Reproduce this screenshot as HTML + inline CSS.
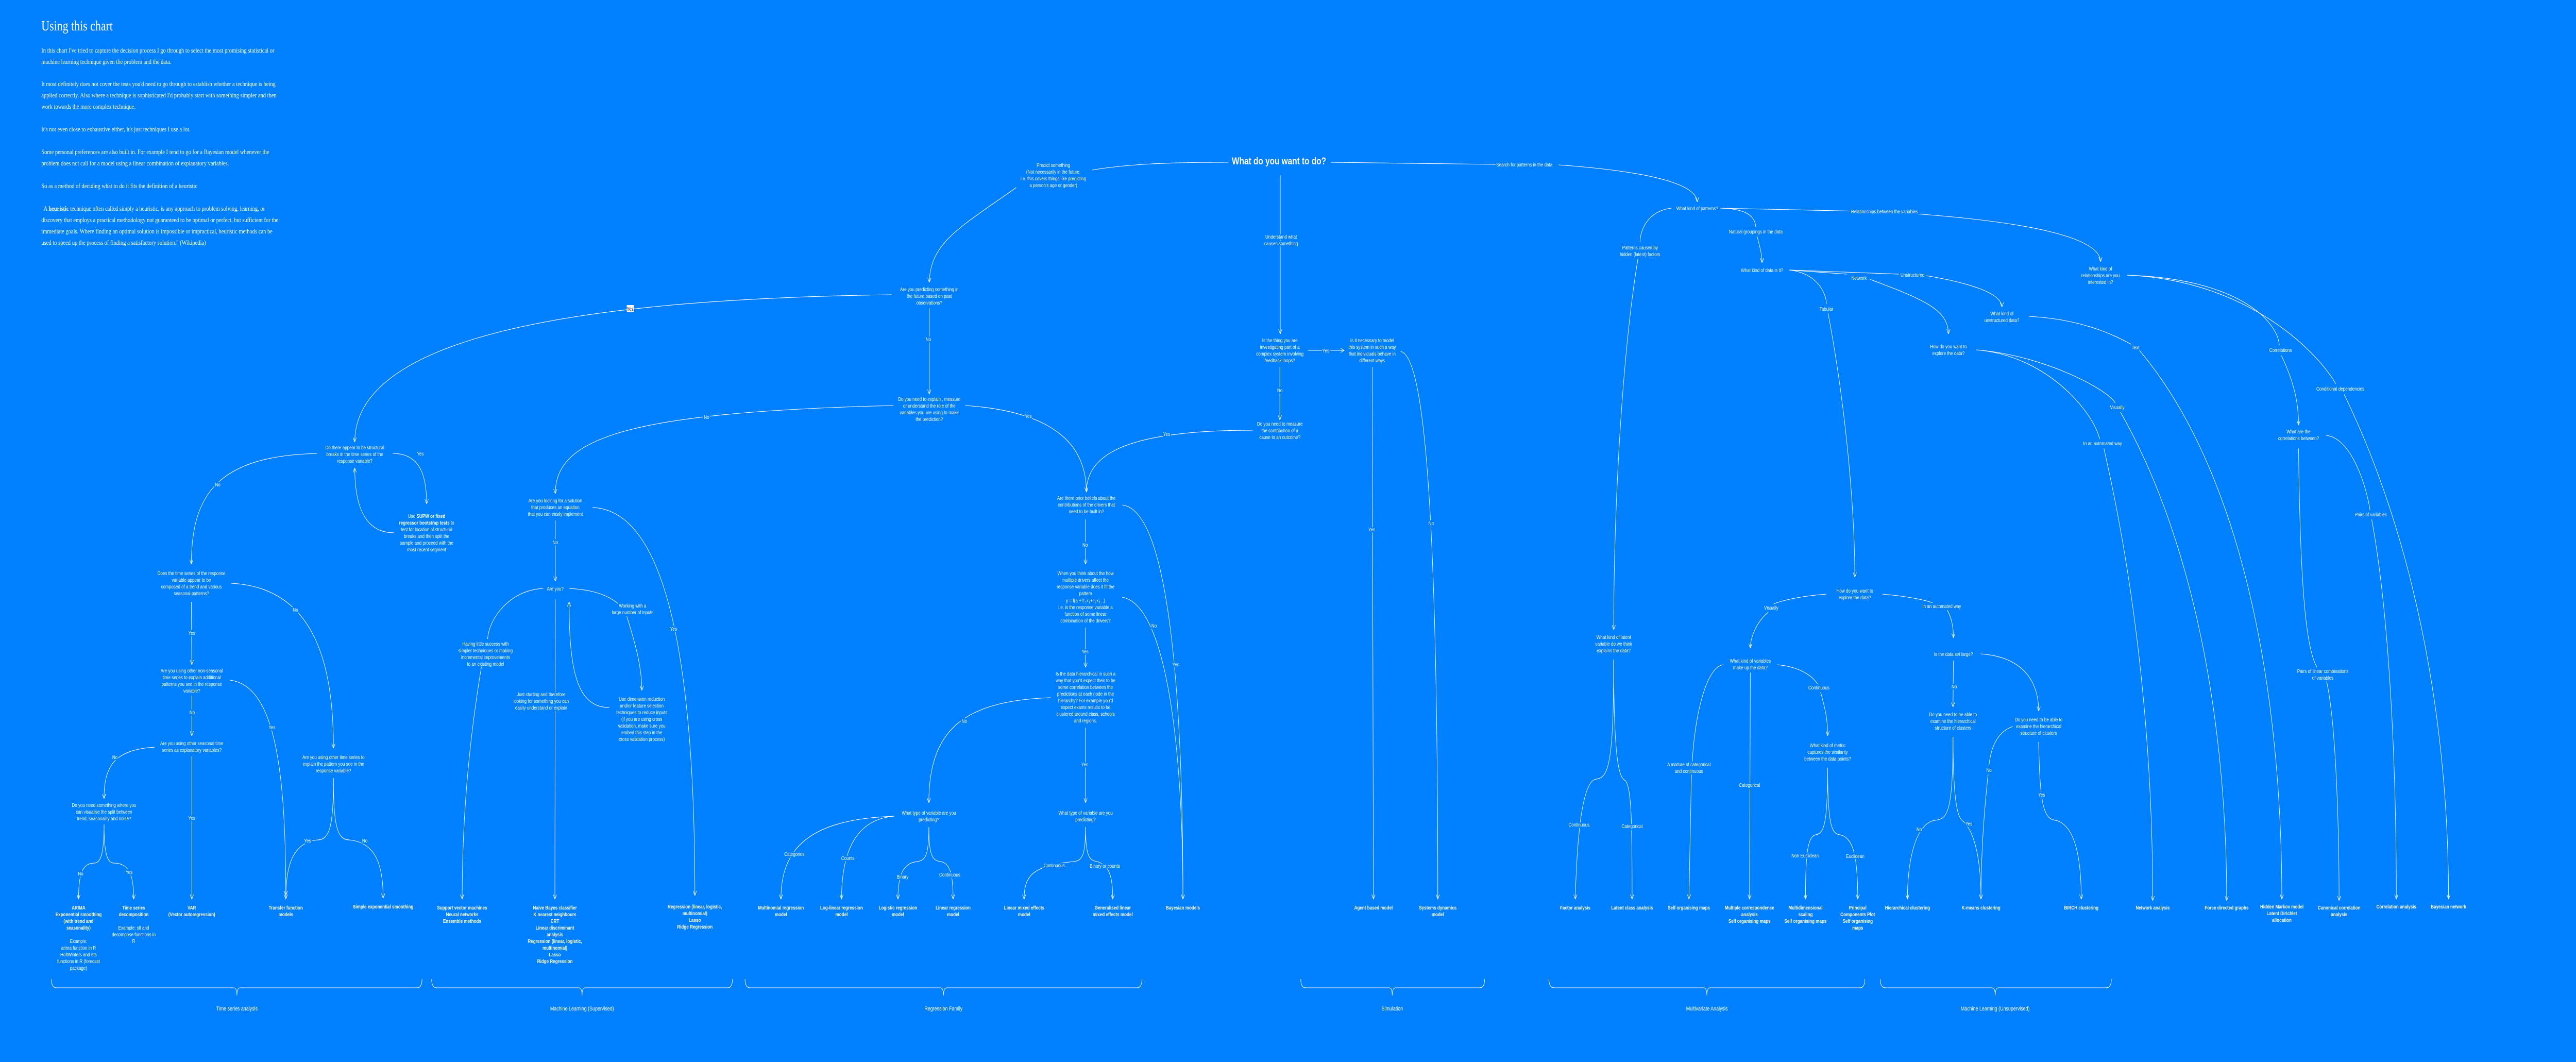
<!DOCTYPE html>
<html><head><meta charset="utf-8">
<style>
html,body{margin:0;padding:0;width:100%;height:100%;overflow:hidden;background:#0080ff;}
body{font-family:"Liberation Sans",sans-serif;}
svg{position:absolute;left:0;top:0;width:100vw;height:100vh;display:block;}
text{fill:#fff;font-family:"Liberation Sans",sans-serif;font-size:10px;text-anchor:middle;paint-order:stroke;stroke:#0080ff;stroke-width:5px;stroke-linejoin:round;}
text.i{font-family:"Liberation Serif",serif;font-size:13px;text-anchor:start;stroke:none;}
text.t{font-family:"Liberation Serif",serif;font-size:27px;text-anchor:start;stroke:none;}
.b{font-weight:bold;}
.s{font-size:11px;}
path.e{fill:none;stroke:#fff;stroke-width:1.1;}
</style></head><body>
<svg viewBox="0 0 6165 2061" preserveAspectRatio="none" xmlns="http://www.w3.org/2000/svg">
<defs>
<marker id="a" viewBox="0 0 10 10" refX="10" refY="5" markerWidth="9" markerHeight="9" markerUnits="userSpaceOnUse" orient="auto">
<path d="M0,0.5 L10,5 L0,9.5" fill="none" stroke="#fff" stroke-width="1.2"/>
</marker>
</defs>
<rect x="0" y="0" width="6165" height="2061" fill="#0080ff"/>
<text class="t" x="99" y="59">Using this chart</text>
<text class="i" x="99" y="102">In this chart I've tried to capture the decision process I go through to select the most promising statistical or</text>
<text class="i" x="99" y="124">machine learning technique given the problem and the data.</text>
<text class="i" x="99" y="167">It most definitely does not cover the tests you'd need to go through to establish whether a technique is being</text>
<text class="i" x="99" y="189">applied correctly. Also where a technique is sophisticated I'd probably start with something simpler and then</text>
<text class="i" x="99" y="211">work towards the more complex technique.</text>
<text class="i" x="99" y="255">It's not even close to exhaustive either, it's just techniques I use a lot.</text>
<text class="i" x="99" y="299">Some personal preferences are also built in. For example I tend to go for a Bayesian model whenever the</text>
<text class="i" x="99" y="321">problem does not call for a model using a linear combination of explanatory variables.</text>
<text class="i" x="99" y="365">So as a method of deciding what to do it fits the definition of a heuristic</text>
<text class="i" x="99" y="409">"A <tspan class="b">heuristic</tspan> technique often called simply a heuristic, is any approach to problem solving, learning, or</text>
<text class="i" x="99" y="431">discovery that employs a practical methodology not guaranteed to be optimal or perfect, but sufficient for the</text>
<text class="i" x="99" y="453">immediate goals. Where finding an optimal solution is impossible or impractical, heuristic methods can be</text>
<text class="i" x="99" y="475">used to speed up the process of finding a satisfactory solution." (Wikipedia)</text>
<g>
<path class="e" d="M2940 315 C2800 315 2700 318 2614 330"/>
<path class="e" marker-end="url(#a)" d="M2432 364 C2300 440 2226 470 2224 548"/>
<path class="e" marker-end="url(#a)" d="M3064 340 L3064 648"/>
<path class="e" d="M3185 315 L3580 319"/>
<path class="e" marker-end="url(#a)" d="M3730 320 C3900 330 4060 350 4062 392"/>
<path class="e" marker-end="url(#a)" d="M3130 680 L3217 680"/>
<path class="e" marker-end="url(#a)" d="M3063 712 L3063 815"/>
<path class="e" marker-end="url(#a)" d="M3284 712 L3287 1745"/>
<path class="e" marker-end="url(#a)" d="M3352 682 C3400 690 3441 900 3441 1745"/>
<path class="e" marker-end="url(#a)" d="M2998 835 C2700 835 2600 880 2600 955"/>
<path class="e" marker-end="url(#a)" d="M2134 572 C1400 580 849 650 849 858"/>
<path class="e" marker-end="url(#a)" d="M2224 598 L2224 765"/>
<path class="e" marker-end="url(#a)" d="M2138 787 C1500 800 1329 850 1329 958"/>
<path class="e" marker-end="url(#a)" d="M2310 787 C2550 800 2600 880 2600 955"/>
<path class="e" marker-end="url(#a)" d="M759 880 C520 885 458 960 458 1095"/>
<path class="e" marker-end="url(#a)" d="M940 880 C1010 880 1021 930 1021 978"/>
<path class="e" marker-end="url(#a)" d="M943 1034 C860 1034 849 960 849 908"/>
<path class="e" marker-end="url(#a)" d="M458 1168 L459 1290"/>
<path class="e" marker-end="url(#a)" d="M553 1132 C760 1140 798 1300 798 1452"/>
<path class="e" marker-end="url(#a)" d="M459 1350 L459 1428"/>
<path class="e" marker-end="url(#a)" d="M550 1320 C660 1330 684 1500 684 1738"/>
<path class="e" marker-end="url(#a)" d="M370 1450 C270 1455 249 1490 249 1550"/>
<path class="e" marker-end="url(#a)" d="M459 1468 L459 1745"/>
<path class="e" marker-end="url(#a)" d="M249 1600 C249 1660 240 1675 225 1675 C195 1675 188 1700 188 1745"/>
<path class="e" marker-end="url(#a)" d="M249 1600 C249 1660 258 1675 273 1675 C310 1675 320 1700 320 1745"/>
<path class="e" marker-end="url(#a)" d="M798 1510 C798 1600 790 1630 760 1630 C700 1635 684 1680 684 1745"/>
<path class="e" marker-end="url(#a)" d="M798 1510 C798 1600 806 1630 836 1630 C900 1635 917 1680 917 1743"/>
<path class="e" marker-end="url(#a)" d="M1418 985 C1600 990 1663 1300 1663 1738"/>
<path class="e" marker-end="url(#a)" d="M1329 1010 L1329 1128"/>
<path class="e" d="M1300 1142 C1220 1145 1170 1200 1167 1240"/>
<path class="e" marker-end="url(#a)" d="M1152 1295 C1120 1450 1106 1600 1106 1745"/>
<path class="e" marker-end="url(#a)" d="M1329 1163 L1328 1745"/>
<path class="e" d="M1362 1142 C1440 1145 1470 1165 1480 1172"/>
<path class="e" marker-end="url(#a)" d="M1500 1196 C1525 1260 1536 1300 1536 1340"/>
<path class="e" marker-end="url(#a)" d="M1458 1373 C1380 1373 1362 1300 1362 1168"/>
<path class="e" marker-end="url(#a)" d="M2686 980 C2790 990 2831 1300 2831 1745"/>
<path class="e" marker-end="url(#a)" d="M2598 1008 L2598 1095"/>
<path class="e" d="M2685 1159 C2780 1170 2831 1400 2831 1745"/>
<path class="e" marker-end="url(#a)" d="M2598 1218 L2598 1295"/>
<path class="e" marker-end="url(#a)" d="M2515 1354 C2300 1360 2223 1420 2223 1558"/>
<path class="e" marker-end="url(#a)" d="M2598 1412 L2598 1558"/>
<path class="e" marker-end="url(#a)" d="M2140 1584 C1930 1590 1869 1650 1869 1745"/>
<path class="e" marker-end="url(#a)" d="M2140 1584 C2050 1590 2014 1650 2014 1745"/>
<path class="e" marker-end="url(#a)" d="M2223 1605 C2223 1660 2215 1670 2195 1672 C2160 1675 2149 1700 2149 1745"/>
<path class="e" marker-end="url(#a)" d="M2223 1605 C2223 1660 2231 1670 2251 1672 C2275 1675 2281 1700 2281 1745"/>
<path class="e" marker-end="url(#a)" d="M2598 1605 C2598 1660 2590 1670 2570 1672 C2470 1680 2451 1700 2451 1745"/>
<path class="e" marker-end="url(#a)" d="M2598 1605 C2598 1660 2606 1670 2626 1672 C2655 1680 2663 1700 2663 1745"/>
<path class="e" d="M4000 404 C3940 410 3925 450 3925 470"/>
<path class="e" marker-end="url(#a)" d="M3920 502 C3880 700 3862 1000 3862 1222"/>
<path class="e" d="M4117 404 L4455 410"/>
<path class="e" marker-end="url(#a)" d="M4568 414 C4850 430 5027 460 5027 508"/>
<path class="e" d="M4117 404 C4180 405 4200 420 4202 440"/>
<path class="e" marker-end="url(#a)" d="M4205 458 C4212 480 4217 495 4217 510"/>
<path class="e" d="M4282 524 C4350 530 4371 570 4371 590"/>
<path class="e" marker-end="url(#a)" d="M4375 608 C4420 800 4439 1000 4439 1120"/>
<path class="e" d="M4282 524 L4420 532"/>
<path class="e" marker-end="url(#a)" d="M4475 542 C4600 580 4663 600 4663 648"/>
<path class="e" d="M4282 524 L4545 532"/>
<path class="e" marker-end="url(#a)" d="M4610 535 C4720 550 4791 570 4791 596"/>
<path class="e" d="M4856 614 C5000 620 5080 660 5100 668"/>
<path class="e" marker-end="url(#a)" d="M5120 680 C5350 900 5461 1300 5461 1745"/>
<path class="e" d="M4730 679 C4900 690 5050 760 5062 782"/>
<path class="e" marker-end="url(#a)" d="M5075 800 C5250 1050 5329 1400 5329 1748"/>
<path class="e" d="M4730 679 C4900 690 5010 800 5025 852"/>
<path class="e" marker-end="url(#a)" d="M5035 870 C5100 1100 5152 1400 5152 1748"/>
<path class="e" d="M5090 534 C5350 540 5450 620 5455 670"/>
<path class="e" marker-end="url(#a)" d="M5460 690 C5495 750 5501 790 5501 825"/>
<path class="e" d="M5090 534 C5400 545 5560 700 5590 745"/>
<path class="e" marker-end="url(#a)" d="M5610 765 C5780 1050 5860 1400 5860 1745"/>
<path class="e" d="M5501 870 C5505 1150 5520 1260 5545 1295"/>
<path class="e" marker-end="url(#a)" d="M5568 1322 C5590 1400 5598 1600 5598 1748"/>
<path class="e" d="M5567 845 C5630 850 5665 950 5672 990"/>
<path class="e" marker-end="url(#a)" d="M5676 1008 C5720 1200 5735 1500 5735 1745"/>
<path class="e" d="M4371 1153 C4290 1158 4250 1170 4245 1172"/>
<path class="e" marker-end="url(#a)" d="M4232 1188 C4200 1210 4189 1240 4189 1258"/>
<path class="e" d="M4505 1153 C4580 1158 4620 1168 4625 1170"/>
<path class="e" marker-end="url(#a)" d="M4660 1184 C4672 1200 4675 1220 4675 1238"/>
<path class="e" marker-end="url(#a)" d="M3862 1280 C3862 1480 3850 1510 3820 1512 C3790 1515 3775 1600 3770 1745"/>
<path class="e" marker-end="url(#a)" d="M3862 1280 C3862 1480 3875 1510 3890 1515 C3905 1530 3906 1600 3906 1745"/>
<path class="e" d="M4124 1290 C4080 1295 4055 1400 4050 1478"/>
<path class="e" marker-end="url(#a)" d="M4048 1503 L4042 1745"/>
<path class="e" marker-end="url(#a)" d="M4189 1305 L4187 1745"/>
<path class="e" d="M4253 1290 C4320 1295 4345 1320 4350 1328"/>
<path class="e" marker-end="url(#a)" d="M4357 1343 C4370 1380 4374 1400 4374 1428"/>
<path class="e" marker-end="url(#a)" d="M4374 1490 C4374 1600 4365 1618 4345 1620 C4325 1625 4321 1660 4321 1745"/>
<path class="e" marker-end="url(#a)" d="M4374 1490 C4374 1600 4383 1618 4403 1620 C4435 1625 4446 1660 4446 1745"/>
<path class="e" marker-end="url(#a)" d="M4675 1282 L4674 1372"/>
<path class="e" marker-end="url(#a)" d="M4740 1269 C4850 1275 4879 1330 4879 1380"/>
<path class="e" marker-end="url(#a)" d="M4674 1430 C4674 1580 4660 1590 4630 1592 C4580 1600 4565 1680 4565 1745"/>
<path class="e" marker-end="url(#a)" d="M4674 1430 C4674 1580 4690 1590 4700 1595 C4730 1620 4741 1680 4741 1745"/>
<path class="e" d="M4817 1410 C4780 1420 4765 1450 4760 1485"/>
<path class="e" d="M4758 1503 C4745 1600 4741 1680 4741 1745"/>
<path class="e" marker-end="url(#a)" d="M4879 1440 C4882 1560 4890 1590 4920 1592 C4960 1600 4981 1650 4981 1745"/>
<path class="e" d="M123 1900 Q123 1917 135 1917 L559 1917 Q567 1917 567 1932 Q567 1917 575 1917 L998 1917 Q1010 1917 1010 1900"/>
<path class="e" d="M1033 1900 Q1033 1917 1045 1917 L1385 1917 Q1393 1917 1393 1932 Q1393 1917 1401 1917 L1741 1917 Q1753 1917 1753 1900"/>
<path class="e" d="M1783 1900 Q1783 1917 1795 1917 L2250 1917 Q2258 1917 2258 1932 Q2258 1917 2266 1917 L2721 1917 Q2733 1917 2733 1900"/>
<path class="e" d="M3113 1900 Q3113 1917 3125 1917 L3324 1917 Q3332 1917 3332 1932 Q3332 1917 3340 1917 L3541 1917 Q3553 1917 3553 1900"/>
<path class="e" d="M3707 1900 Q3707 1917 3719 1917 L4077 1917 Q4085 1917 4085 1932 Q4085 1917 4093 1917 L4451 1917 Q4463 1917 4463 1900"/>
<path class="e" d="M4500 1900 Q4500 1917 4512 1917 L4767 1917 Q4775 1917 4775 1932 Q4775 1917 4783 1917 L5041 1917 Q5053 1917 5053 1900"/>
</g>

<text class="b" style="font-size:19px" x="3061" y="319">What do you want to do?</text>
<text y="324"><tspan x="2521">Predict something</tspan><tspan x="2521" dy="13">(Not necessarily in the future,</tspan><tspan x="2521" dy="13">i.e. this covers things like predicting</tspan><tspan x="2521" dy="13">a person's age or gender)</tspan></text>
<text y="463"><tspan x="3066">Understand what</tspan><tspan x="3066" dy="13">causes something</tspan></text>
<text x="3581" y="323" style="text-anchor:start">Search for patterns in the data</text>
<text y="664"><tspan x="3063">Is the thing you are</tspan><tspan x="3063" dy="13">investigating part of a</tspan><tspan x="3063" dy="13">complex system involving</tspan><tspan x="3063" dy="13">feedback loops?</tspan></text>
<text y="664"><tspan x="3284">Is it necessary to model</tspan><tspan x="3284" dy="13">this system in such a way</tspan><tspan x="3284" dy="13">that individuals behave in</tspan><tspan x="3284" dy="13">different ways</tspan></text>
<text x="3173" y="684">Yes</text>
<text x="3063" y="761">No</text>
<text x="3283" y="1031">Yes</text>
<text x="3425" y="1019">No</text>
<text y="826"><tspan x="3063">Do you need to measure</tspan><tspan x="3063" dy="13">the contribution of a</tspan><tspan x="3063" dy="13">cause to an outcome?</tspan></text>
<text x="2792" y="846">Yes</text>
<text y="565"><tspan x="2224">Are you predicting something in</tspan><tspan x="2224" dy="13">the future based on past</tspan><tspan x="2224" dy="13">observations?</tspan></text>
<rect x="1500" y="592" width="17" height="14" fill="#fff"/>
<text x="1508" y="603" style="fill:#000;stroke:none">Yes</text>
<text x="2222" y="662">No</text>
<text y="778"><tspan x="2224">Do you need to explain , measure</tspan><tspan x="2224" dy="13">or understand the role of the</tspan><tspan x="2224" dy="13">variables you are using to make</tspan><tspan x="2224" dy="13">the prediction?</tspan></text>
<text x="1691" y="813">No</text>
<text x="2461" y="811">Yes</text>

<text y="872"><tspan x="849">Do there appear to be structural</tspan><tspan x="849" dy="13">breaks in the time series of the</tspan><tspan x="849" dy="13">response variable?</tspan></text>
<text x="521" y="944">No</text>
<text x="1006" y="884">Yes</text>
<text y="1005"><tspan x="1021">Use <tspan class="b">SUPW or fixed</tspan></tspan><tspan x="1021" dy="13"><tspan class="b">regressor bootstrap tests</tspan> to</tspan><tspan x="1021" dy="13">test for location of structural</tspan><tspan x="1021" dy="13">breaks and then split the</tspan><tspan x="1021" dy="13">sample and proceed with the</tspan><tspan x="1021" dy="13">most recent segment</tspan></text>
<text y="1116"><tspan x="458">Does the time series of the response</tspan><tspan x="458" dy="13">variable appear to be</tspan><tspan x="458" dy="13">composed of a trend and various</tspan><tspan x="458" dy="13">seasonal patterns?</tspan></text>
<text x="459" y="1232">Yes</text>
<text x="707" y="1187">No</text>
<text y="1305"><tspan x="459">Are you using other non-seasonal</tspan><tspan x="459" dy="13">time series to explain additional</tspan><tspan x="459" dy="13">patterns you see in the response</tspan><tspan x="459" dy="13">variable?</tspan></text>
<text x="460" y="1386">No</text>
<text x="651" y="1415">Yes</text>
<text y="1446"><tspan x="459">Are you using other seasonal time</tspan><tspan x="459" dy="13">series as explanatory variables?</tspan></text>
<text x="275" y="1473">No</text>
<text x="459" y="1591">Yes</text>
<text y="1566"><tspan x="249">Do you need something where you</tspan><tspan x="249" dy="13">can visualise the split between</tspan><tspan x="249" dy="13">trend, seasonality and noise?</tspan></text>
<text x="193" y="1699">No</text>
<text x="309" y="1696">Yes</text>
<text y="1473"><tspan x="798">Are you using other time series to</tspan><tspan x="798" dy="13">explain the pattern you see in the</tspan><tspan x="798" dy="13">response variable?</tspan></text>
<text x="736" y="1635">Yes</text>
<text x="873" y="1635">No</text>

<text y="975"><tspan x="1329">Are you looking for a solution</tspan><tspan x="1329" dy="13">that produces an equation</tspan><tspan x="1329" dy="13">that you can easily implement</tspan></text>
<text x="1329" y="1056">No</text>
<text x="1612" y="1224">Yes</text>
<text x="1329" y="1146">Are you?</text>
<text y="1253"><tspan x="1162">Having little success with</tspan><tspan x="1162" dy="13">simpler techniques or making</tspan><tspan x="1162" dy="13">incremental improvements</tspan><tspan x="1162" dy="13">to an existing model</tspan></text>
<text y="1351"><tspan x="1295">Just starting and therefore</tspan><tspan x="1295" dy="13">looking for something you can</tspan><tspan x="1295" dy="13">easily understand or explain</tspan></text>
<text y="1179"><tspan x="1514">Working with a</tspan><tspan x="1514" dy="13">large number of inputs</tspan></text>
<text y="1360"><tspan x="1536">Use dimension reduction</tspan><tspan x="1536" dy="13">and/or feature selection</tspan><tspan x="1536" dy="13">techniques to reduce inputs</tspan><tspan x="1536" dy="13">(if you are using cross</tspan><tspan x="1536" dy="13">validation, make sure you</tspan><tspan x="1536" dy="13">embed this step in the</tspan><tspan x="1536" dy="13">cross validation process)</tspan></text>

<text y="970"><tspan x="2600">Are there prior beliefs about the</tspan><tspan x="2600" dy="13">contributions of the drivers that</tspan><tspan x="2600" dy="13">need to be built in?</tspan></text>
<text x="2814" y="1293">Yes</text>
<text x="2597" y="1061">No</text>
<text y="1116"><tspan x="2598">When you think about the how</tspan><tspan x="2598" dy="13">multiple drivers affect the</tspan><tspan x="2598" dy="13">response variable does it fit the</tspan><tspan x="2598" dy="13">pattern</tspan><tspan x="2598" dy="14">y = f(a + b<tspan font-size="7" dy="2">1</tspan><tspan dy="-2">x</tspan><tspan font-size="7" dy="2">1</tspan><tspan dy="-2">+b</tspan><tspan font-size="7" dy="2">2</tspan><tspan dy="-2">x</tspan><tspan font-size="7" dy="2">2</tspan><tspan dy="-2"> ..)</tspan></tspan><tspan x="2598" dy="13">i.e. is the response variable a</tspan><tspan x="2598" dy="13">function of some linear</tspan><tspan x="2598" dy="13">combination of the drivers?</tspan></text>
<text x="2762" y="1218">No</text>
<text x="2597" y="1268">Yes</text>
<text y="1311"><tspan x="2598">Is the data hierarchical in such a</tspan><tspan x="2598" dy="13">way that you'd expect their to be</tspan><tspan x="2598" dy="13">some correlation between the</tspan><tspan x="2598" dy="13">predictions at each node in the</tspan><tspan x="2598" dy="13">hierarchy? For example you'd</tspan><tspan x="2598" dy="13">expect exams results to be</tspan><tspan x="2598" dy="13">clustered around class, schools</tspan><tspan x="2598" dy="13">and regions.</tspan></text>
<text x="2308" y="1403">No</text>
<text x="2596" y="1487">Yes</text>
<text y="1581"><tspan x="2223">What type of variable are you</tspan><tspan x="2223" dy="13">predicting?</tspan></text>
<text y="1581"><tspan x="2598">What type of variable are you</tspan><tspan x="2598" dy="13">predicting?</tspan></text>
<text x="1901" y="1661">Categories</text>
<text x="2029" y="1669">Counts</text>
<text x="2160" y="1705">Binary</text>
<text x="2273" y="1701">Continuous</text>
<text x="2523" y="1683">Continuous</text>
<text x="2644" y="1684">Binary or counts</text>

<text x="4062" y="408">What kind of patterns?</text>
<text x="4510" y="414">Relationships between the variables</text>
<text x="4202" y="453">Natural groupings in the data</text>
<text y="484"><tspan x="3925">Patterns caused by</tspan><tspan x="3925" dy="13">hidden (latent) factors</tspan></text>
<text x="4217" y="528">What kind of data is it?</text>
<text x="4577" y="537">Unstructured</text>
<text x="4449" y="543">Network</text>
<text x="4371" y="603">Tabular</text>
<text y="612"><tspan x="4791">What kind of</tspan><tspan x="4791" dy="13">unstructured data?</tspan></text>
<text y="676"><tspan x="4663">How do you want to</tspan><tspan x="4663" dy="13">explore the data?</tspan></text>
<text y="525"><tspan x="5027">What kind of</tspan><tspan x="5027" dy="13">relationships are you</tspan><tspan x="5027" dy="13">interested in?</tspan></text>
<text x="5111" y="678">Text</text>
<text x="5458" y="683">Correlations</text>
<text x="5601" y="758">Conditional dependencies</text>
<text x="5067" y="794">Visually</text>
<text x="5032" y="864">In an automated way</text>
<text y="841"><tspan x="5501">What are the</tspan><tspan x="5501" dy="13">correlations between?</tspan></text>
<text x="5674" y="1002">Pairs of variables</text>
<text y="1306"><tspan x="5559">Pairs of linear combinations</tspan><tspan x="5559" dy="13">of variables</tspan></text>
<text y="1150"><tspan x="4439">How do you want to</tspan><tspan x="4439" dy="13">explore the data?</tspan></text>
<text x="4239" y="1183">Visually</text>
<text x="4647" y="1180">In an automated way</text>
<text y="1240"><tspan x="3862">What kind of latent</tspan><tspan x="3862" dy="13">variable do we think</tspan><tspan x="3862" dy="13">explains the data?</tspan></text>
<text y="1286"><tspan x="4189">What kind of variables</tspan><tspan x="4189" dy="13">make up the data?</tspan></text>
<text x="4675" y="1273">Is the data set large?</text>
<text x="4353" y="1338">Continuous</text>
<text x="4677" y="1336">No</text>
<text y="1390"><tspan x="4674">Do you need to be able to</tspan><tspan x="4674" dy="13">examine the hierarchical</tspan><tspan x="4674" dy="13">structure of clusters</tspan></text>
<text y="1400"><tspan x="4879">Do you need to be able to</tspan><tspan x="4879" dy="13">examine the hierarchical</tspan><tspan x="4879" dy="13">structure of clusters</tspan></text>
<text y="1450"><tspan x="4374">What kind of metric</tspan><tspan x="4374" dy="13">captures the similarity</tspan><tspan x="4374" dy="13">between the data points?</tspan></text>
<text y="1487"><tspan x="4042">A mixture of categorical</tspan><tspan x="4042" dy="13">and continuous</tspan></text>
<text x="4187" y="1527">Categorical</text>
<text x="4760" y="1498">No</text>
<text x="4886" y="1546">Yes</text>
<text x="3779" y="1604">Continuous</text>
<text x="3906" y="1607">Categorical</text>
<text x="4320" y="1664">Non Euclidean</text>
<text x="4440" y="1665">Euclidean</text>
<text x="4593" y="1613">No</text>
<text x="4712" y="1602">Yes</text>

<g>
<text y="1765" class="b"><tspan x="188">ARIMA</tspan><tspan x="188" dy="13">Exponential smoothing</tspan><tspan x="188" dy="13">(with trend and</tspan><tspan x="188" dy="13">seasonality)</tspan></text>
<text y="1830"><tspan x="188">Example:</tspan><tspan x="188" dy="13">arima function in R</tspan><tspan x="188" dy="13">HoltWinters and ets</tspan><tspan x="188" dy="13">functions in R (forecast</tspan><tspan x="188" dy="13">package)</tspan></text>
<text y="1765" class="b"><tspan x="320">Time series</tspan><tspan x="320" dy="13">decomposition</tspan></text>
<text y="1804"><tspan x="320">Example: stl and</tspan><tspan x="320" dy="13">decompose functions in</tspan><tspan x="320" dy="13">R</tspan></text>
<text y="1765" class="b"><tspan x="459">VAR</tspan><tspan x="459" dy="13">(Vector autoregression)</tspan></text>
<text y="1765" class="b"><tspan x="684">Transfer function</tspan><tspan x="684" dy="13">models</tspan></text>
<text y="1763" class="b" x="917">Simple exponential smoothing</text>
<text y="1765" class="b"><tspan x="1106">Support vector machines</tspan><tspan x="1106" dy="13">Neural networks</tspan><tspan x="1106" dy="13">Ensemble methods</tspan></text>
<text y="1765" class="b"><tspan x="1328">Naive Bayes classifier</tspan><tspan x="1328" dy="13">K nearest neighbours</tspan><tspan x="1328" dy="13">CRT</tspan><tspan x="1328" dy="13">Linear discriminant</tspan><tspan x="1328" dy="13">analysis</tspan><tspan x="1328" dy="13">Regression (linear, logistic,</tspan><tspan x="1328" dy="13">multinomial)</tspan><tspan x="1328" dy="13">Lasso</tspan><tspan x="1328" dy="13">Ridge Regression</tspan></text>
<text y="1763" class="b"><tspan x="1663">Regression (linear, logistic,</tspan><tspan x="1663" dy="13">multinomial)</tspan><tspan x="1663" dy="13">Lasso</tspan><tspan x="1663" dy="13">Ridge Regression</tspan></text>
<text y="1765" class="b"><tspan x="1869">Multinomial regression</tspan><tspan x="1869" dy="13">model</tspan></text>
<text y="1765" class="b"><tspan x="2014">Log-linear regression</tspan><tspan x="2014" dy="13">model</tspan></text>
<text y="1765" class="b"><tspan x="2149">Logistic regression</tspan><tspan x="2149" dy="13">model</tspan></text>
<text y="1765" class="b"><tspan x="2281">Linear regression</tspan><tspan x="2281" dy="13">model</tspan></text>
<text y="1765" class="b"><tspan x="2451">Linear mixed effects</tspan><tspan x="2451" dy="13">model</tspan></text>
<text y="1765" class="b"><tspan x="2663">Generalised linear</tspan><tspan x="2663" dy="13">mixed effects model</tspan></text>
<text y="1765" class="b" x="2831">Bayesian models</text>
<text y="1765" class="b" x="3287">Agent based model</text>
<text y="1765" class="b"><tspan x="3441">Systems dynamics</tspan><tspan x="3441" dy="13">model</tspan></text>
<text y="1765" class="b" x="3770">Factor analysis</text>
<text y="1765" class="b" x="3906">Latent class analysis</text>
<text y="1765" class="b" x="4042">Self organising maps</text>
<text y="1765" class="b"><tspan x="4187">Multiple correspondence</tspan><tspan x="4187" dy="13">analysis</tspan><tspan x="4187" dy="13">Self organising maps</tspan></text>
<text y="1765" class="b"><tspan x="4321">Multidimensional</tspan><tspan x="4321" dy="13">scaling</tspan><tspan x="4321" dy="13">Self organising maps</tspan></text>
<text y="1765" class="b"><tspan x="4446">Principal</tspan><tspan x="4446" dy="13">Components  Plot</tspan><tspan x="4446" dy="13">Self organising</tspan><tspan x="4446" dy="13">maps</tspan></text>
<text y="1765" class="b" x="4565">Hierarchical clustering</text>
<text y="1765" class="b" x="4741">K-means clustering</text>
<text y="1765" class="b" x="4981">BIRCH clustering</text>
<text y="1765" class="b" x="5152">Network analysis</text>
<text y="1765" class="b" x="5329">Force directed graphs</text>
<text y="1763" class="b"><tspan x="5461">Hidden Markov model</tspan><tspan x="5461" dy="13">Latent Dirichlet</tspan><tspan x="5461" dy="13">allocation</tspan></text>
<text y="1765" class="b"><tspan x="5598">Canonical correlation</tspan><tspan x="5598" dy="13">analysis</tspan></text>
<text y="1763" class="b" x="5735">Correlation analysis</text>
<text y="1763" class="b" x="5860">Bayesian network</text>
</g>

<text class="s" x="567" y="1961">Time series analysis</text>
<text class="s" x="1393" y="1961">Machine Learning (Supervised)</text>
<text class="s" x="2258" y="1961">Regression Family</text>
<text class="s" x="3332" y="1961">Simulation</text>
<text class="s" x="4085" y="1961">Multivariate Analysis</text>
<text class="s" x="4775" y="1961">Machine Learning (Unsupervised)</text>
</svg>
</body></html>
